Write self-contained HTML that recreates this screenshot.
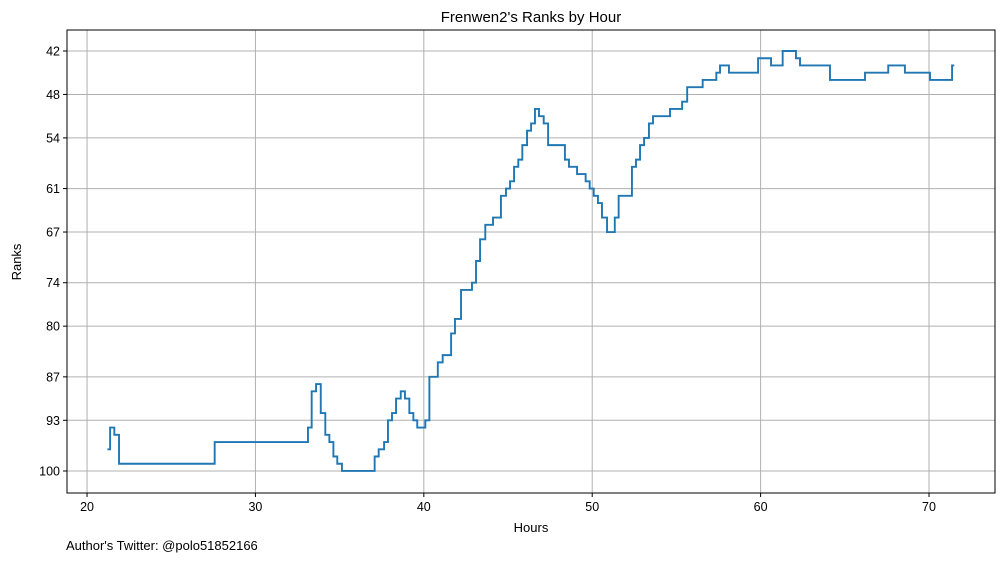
<!DOCTYPE html>
<html><head><meta charset="utf-8"><style>
body{margin:0;background:#fff;font-family:"Liberation Sans",sans-serif}
svg text{font-family:"Liberation Sans",sans-serif;fill:#000}
</style></head><body>
<svg id="chart" width="1005" height="562" xmlns="http://www.w3.org/2000/svg">
<text x="531" y="22" text-anchor="middle" font-size="15">Frenwen2's Ranks by Hour</text>
<g id="grid"></g>
<g id="ticks"></g>
<path id="line" fill="none" stroke="#1f77b4" stroke-width="1.9"/>
<rect x="67" y="30" width="928" height="463" fill="none" stroke="#000" stroke-width="1"/>
<text x="531" y="532" text-anchor="middle" font-size="13">Hours</text>
<text transform="translate(21,262) rotate(-90)" text-anchor="middle" font-size="13">Ranks</text>
<text x="66" y="550" font-size="13">Author's Twitter: @polo51852166</text>
</svg>
<script>
const hours=[21.21,21.37,21.62,21.90,27.58,33.12,33.34,33.60,33.88,34.15,34.39,34.63,34.86,35.14,37.08,37.32,37.64,37.87,38.11,38.35,38.63,38.88,39.14,39.38,39.61,40.09,40.33,40.83,41.12,41.62,41.85,42.21,42.86,43.10,43.34,43.65,44.11,44.58,44.88,45.12,45.36,45.61,45.85,46.13,46.37,46.60,46.84,47.12,47.38,48.38,48.62,49.10,49.61,49.85,50.09,50.34,50.58,50.88,51.34,51.57,52.36,52.60,52.84,53.08,53.37,53.61,54.62,55.34,55.64,56.56,57.37,57.59,58.12,59.85,60.62,61.31,62.10,62.34,64.12,66.20,67.58,68.57,70.06,71.37];
const ranks=[97,94,95,99,96,94,89,88,92,95,96,98,99,100,98,97,96,93,92,90,89,90,92,93,94,93,87,85,84,81,79,75,74,71,68,66,65,62,61,60,58,57,55,53,52,50,51,52,55,57,58,59,60,61,62,63,65,67,65,62,58,57,55,54,52,51,50,49,47,46,45,44,45,43,44,42,43,44,46,45,44,45,46,44];
const endHour=71.50;
const xTicks=[20,30,40,50,60,70];
const yTicks=[42,48,54,61,67,74,80,87,93,100];
const L=67,R=995,T=30,B=493;
const xMin=18.81,xMax=73.92,yMin=39.1,yMax=103.04;
const X=h=>L+(h-xMin)/(xMax-xMin)*(R-L);
const Y=r=>T+(r-yMin)/(yMax-yMin)*(B-T);
const NS="http://www.w3.org/2000/svg";
const grid=document.getElementById('grid'),ticks=document.getElementById('ticks');
function mk(tag,attrs,parent){const e=document.createElementNS(NS,tag);for(const k in attrs)e.setAttribute(k,attrs[k]);parent.appendChild(e);return e;}
xTicks.forEach(t=>{const x=X(t);
 const g=mk('line',{x1:x,x2:x,y1:T,y2:B,stroke:'#b0b0b0','stroke-width':1},grid);
 
 
 mk('line',{x1:x,x2:x,y1:B,y2:B+4,stroke:'#000'},ticks);
 const tx=mk('text',{x:x,y:B+18,'text-anchor':'middle','font-size':12.5},ticks);tx.textContent=t;
 
 
});
yTicks.forEach(t=>{const y=Y(t);
 const g=mk('line',{x1:L,x2:R,y1:y,y2:y,stroke:'#b0b0b0','stroke-width':1},grid);
 
 
 mk('line',{x1:L-4,x2:L,y1:y,y2:y,stroke:'#000'},ticks);
 const tx=mk('text',{x:L-7,y:y+4.5,'text-anchor':'end','font-size':12.5},ticks);tx.textContent=t;
 
 
});
let d='M'+X(hours[0])+','+Y(ranks[0]);
for(let i=1;i<hours.length;i++){d+=' H'+X(hours[i])+' V'+Y(ranks[i]);}
d+=' H'+X(endHour);
document.getElementById('line').setAttribute('d',d);
</script>
</body></html>
